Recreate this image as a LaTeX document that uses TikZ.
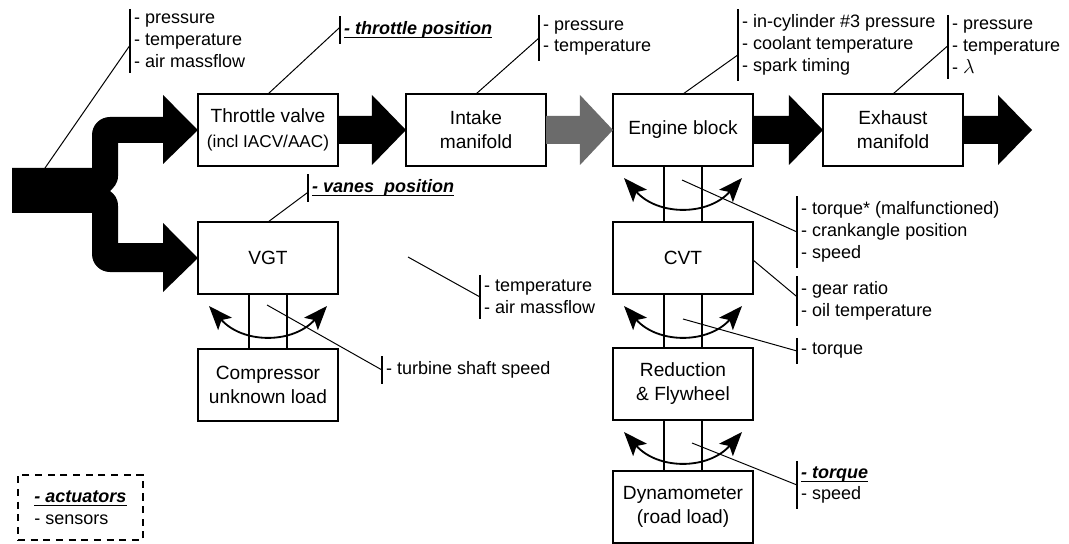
\documentclass[tikz,border=0pt]{standalone}
\usepackage{fontspec}
\setmainfont{Liberation Sans}
\usepackage{tikz}
\usetikzlibrary{calc,arrows.meta}

\definecolor{flowgray}{gray}{0.42}
\newcommand{\act}[1]{\setbox0\hbox{\bfseries\itshape #1}\leavevmode\rlap{\rule[-2.8pt]{\wd0}{0.9pt}}\box0}

\begin{document}
\begin{tikzpicture}[x=0.025cm,y=-0.025cm,every node/.style={outer sep=0pt}]
\tikzstyle{block}=[draw,line width=1.3pt,minimum width=3.5cm,minimum height=1.8cm,align=center,font=\fontsize{13.6}{17}\selectfont]
\tikzstyle{note}=[anchor=west,align=left,inner xsep=3pt,inner ysep=3.8pt,font=\fontsize{12.8}{15.6}\selectfont]
\tikzstyle{flow}=[fill=black]
\tikzstyle{bar}=[line width=1pt]
\tikzstyle{lead}=[line width=0.7pt]
\tikzstyle{shaft}=[line width=1.3pt]
\tikzstyle{twist}=[line width=1.3pt,{Stealth[length=6mm,width=4.6mm,inset=1.3mm]}-{Stealth[length=6mm,width=4.6mm,inset=1.3mm]}]

\useasboundingbox (0,0) rectangle (1069,544);

% blocks
\node (thr) [block] at (268,130) {Throttle valve\\[1pt]{\fontsize{12.2}{14}\selectfont (incl IACV/AAC)}};
\node (int) [block] at (476,130) {Intake\\manifold};
\node (eng) [block] at (683,130) {Engine block};
\node (exh) [block] at (893,130) {Exhaust\\manifold};
\node (vgt) [block] at (268,258) {VGT};
\node (comp) [block] at (268,385) {Compressor\\unknown load};
\node (cvt) [block] at (683,258) {CVT};
\node (red) [block] at (683,384) {Reduction\\\& Flywheel};
\node (dyn) [block] at (683,507) {Dynamometer\\(road load)};

% air flow
\fill[flow] (12,168) -- (92,168) -- (92,135) .. controls (92,125) and (100,117) .. (110,117) -- (163,117) -- (163,95) -- (thr.west) -- (163,164) -- (163,143) -- (118,143) -- (118,176) .. controls (118,184) and (113,188) .. (110,191) .. controls (114,194) and (118,198) .. (118,206) -- (118,243) -- (163,243) -- (163,223) -- (vgt.west) -- (163,292) -- (163,272) -- (110,272) .. controls (100,272) and (92,264) .. (92,254) -- (92,213) -- (12,213) -- cycle;
\fill[flow] ($(thr.east)+(0,-14)$) -- ($(int.west)+(-34,-14)$) -- ++(0,-21) -- (int.west) -- ++(-34,35) -- ++(0,-21) -- ($(thr.east)+(0,14)$) -- cycle;
\fill[flowgray] ($(int.east)+(0,-14)$) -- ($(eng.west)+(-33,-14)$) -- ++(0,-21) -- (eng.west) -- ++(-33,35) -- ++(0,-21) -- ($(int.east)+(0,14)$) -- cycle;
\fill[flow] ($(eng.east)+(0,-14)$) -- ($(exh.west)+(-34,-14)$) -- ++(0,-21) -- (exh.west) -- ++(-34,35) -- ++(0,-21) -- ($(eng.east)+(0,14)$) -- cycle;
\coordinate (out) at (1032,130);
\fill[flow] ($(exh.east)+(0,-14)$) -- ($(out)+(-34,-14)$) -- ++(0,-21) -- (out) -- ++(-34,35) -- ++(0,-21) -- ($(exh.east)+(0,14)$) -- cycle;

% shafts
\foreach \a/\b in {vgt/comp,eng/cvt,cvt/red,red/dyn}{
  \draw[shaft] ($(\a.south)+(-19,0)$) -- ($(\b.north)+(-19,0)$);
  \draw[shaft] ($(\a.south)+(19,0)$) -- ($(\b.north)+(19,0)$);
  \draw[twist] ($(\a.south)+(-59,12)$) .. controls +(34,38) and +(-34,38) .. ($(\a.south)+(59,12)$);
}

% signals
\node (lblIn) [note] at (130,41) {- pressure\\- temperature\\- air massflow};
\node (lblThr) [note] at (340,30) {\act{- throttle position}};
\node (lblInt) [note] at (539,38) {- pressure\\- temperature};
\node (lblEng) [note] at (738,45) {- in-cylinder \#3 pressure\\- coolant temperature\\- spark timing};
\node (lblExh) [note] at (948,47) {- pressure\\- temperature\\- {\fontsize{15}{15.6}\selectfont$\lambda$}};
\node (lblVanes) [note] at (308,188) {\act{- vanes~ position}};
\node (lblMid) [note] at (480,297) {- temperature\\- air massflow};
\node (lblTurb) [note] at (382,370) {- turbine shaft speed};
\node (lblCrank) [note] at (797,232) {- torque* (malfunctioned)\\- crankangle position\\- speed};
\node (lblGear) [note] at (797,301) {- gear ratio\\- oil temperature};
\node (lblTq) [note] at (797,351) {- torque};
\node (lblDyno) [note] at (797,485) {\act{- torque}\\- speed};

\foreach \n in {lblIn,lblThr,lblInt,lblEng,lblExh,lblVanes,lblMid,lblTurb,lblCrank,lblGear,lblTq,lblDyno}
  \draw[bar] (\n.north west) -- (\n.south west);

\coordinate (inlet) at (45,168);
\coordinate (mid) at (408,257);
\coordinate (turb) at (267,305);
\coordinate (crank) at (682,180);
\coordinate (tq) at (683,319);
\coordinate (dtq) at (692,443);

\draw[lead] (inlet) -- ([yshift=-3pt]lblIn.west);
\draw[lead] (thr.north) -- ([yshift=2pt]lblThr.west);
\draw[lead] (int.north) -- (lblInt.west);
\draw[lead] (eng.north) -- ([yshift=-7pt]lblEng.west);
\draw[lead] (exh.north) -- ([yshift=1pt]lblExh.west);
\draw[lead] (vgt.north) -- ([yshift=-3pt]lblVanes.west);
\draw[lead] (mid) -- (lblMid.west);
\draw[lead] (turb) -- (lblTurb.west);
\draw[lead] (crank) -- (lblCrank.west);
\draw[lead] ($(cvt.east)+(0,2)$) -- ([yshift=3pt]lblGear.west);
\draw[lead] (tq) -- (lblTq.west);
\draw[lead] (dtq) -- (lblDyno.west);

% legend
\node (legend) [draw,dashed,dash pattern=on 5pt off 4pt,line width=0.8pt,minimum width=3.125cm,minimum height=1.625cm,align=left,font=\fontsize{12.8}{15.6}\selectfont] at (80.5,507.5) {\act{- actuators}\\- sensors};
\end{tikzpicture}
\end{document}
